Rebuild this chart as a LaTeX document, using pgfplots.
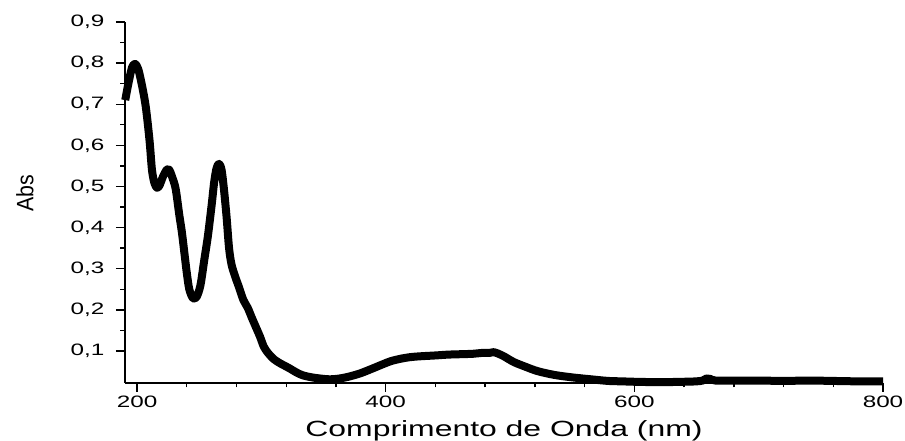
\documentclass[border=0pt]{standalone}
\usepackage{fontspec}
\setmainfont{Liberation Sans}
\newfontfamily\tickfont[FakeStretch=1.47]{Liberation Sans}
\newfontfamily\labfont[FakeStretch=1.45]{Liberation Sans}
\newfontfamily\absfont[FakeStretch=0.9]{Liberation Sans}
\usepackage{pgfplots}
\pgfplotsset{compat=1.18}

\pgfplotstableread{
nm abs
190.5 0.710
193 0.750
196 0.790
198.5 0.798
201 0.785
204 0.745
207 0.694
210 0.613
212 0.540
214 0.508
216 0.497
218 0.502
221 0.525
224 0.541
226 0.540
228 0.525
231 0.495
234 0.430
236 0.390
238 0.340
240 0.290
242 0.250
245 0.228
248 0.232
251 0.260
254 0.320
257 0.380
260 0.455
262 0.510
264 0.545
266 0.555
268 0.540
270 0.490
272 0.426
274 0.350
276 0.310
279 0.280
282 0.255
285.5 0.224
289 0.205
292 0.183
296 0.155
299 0.134
302 0.110
305.6 0.094
310 0.080
315 0.070
320 0.062
323 0.057
328 0.048
333 0.041
340 0.036
347 0.033
355 0.031
363 0.033
371 0.038
380 0.046
390 0.058
398 0.068
404 0.075
412 0.081
420 0.085
428 0.087
440 0.089
450 0.091
460 0.092
470 0.093
477 0.095
483 0.095
487 0.097
490 0.094
495 0.087
503 0.073
512 0.062
522 0.051
535 0.042
549 0.036
565 0.031
579 0.027
590 0.026
600 0.025
620 0.024
640 0.025
650 0.026
655 0.028
658 0.033
661 0.032
665 0.028
680 0.028
700 0.028
720 0.027
740 0.028
760 0.027
780 0.026
800 0.026
}\spectrum

\begin{document}
\begin{tikzpicture}
\begin{axis}[
    at={(125pt,58pt)}, anchor=south west,
    scale only axis,
    width=758pt, height=361pt,
    xmin=190.3, xmax=800,
    ymin=0.022, ymax=0.9,
    axis lines*=left,
    axis line style={line width=1.4pt},
    tick style={line width=1.4pt, black},
    tick align=outside,
    major tick length=9pt,
    minor tick length=4.5pt,
    xtick={200,400,600,800},
    minor x tick num=4,
    ytick={0.1,0.2,0.3,0.4,0.5,0.6,0.7,0.8,0.9},
    minor y tick num=1,
    /pgf/number format/assume math mode=true,
    yticklabel style={xshift=-8pt, /pgf/number format/.cd, fixed, fixed zerofill, precision=1, use comma},
    tick label style={font=\fontsize{16.5}{18}\selectfont\tickfont},
    xlabel={Comprimento de Onda (nm)},
    xlabel style={font=\fontsize{22}{24}\selectfont\labfont, at={(axis description cs:0.5,-0.149)}, anchor=base},
    ylabel={Abs},
    ylabel style={font=\fontsize{23.7}{26}\selectfont\absfont, at={(axis description cs:-0.132,0.525)}, anchor=center, rotate=0},
    clip=false,
]
\addplot[black, line width=8pt, line join=round, smooth, tension=0.5] table[x=nm, y=abs] {\spectrum};
\end{axis}
\pgfresetboundingbox
\useasboundingbox (0,0) rectangle (905pt,441pt);
\end{tikzpicture}
\end{document}
